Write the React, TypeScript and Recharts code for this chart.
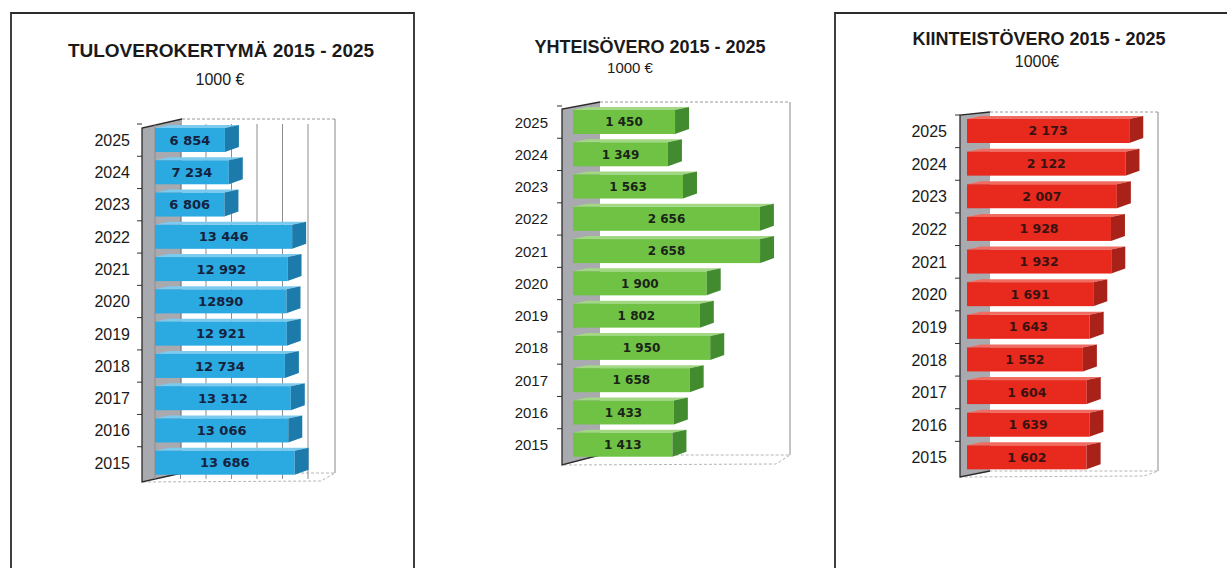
import { BarChart, Bar, XAxis, YAxis, CartesianGrid, LabelList } from 'recharts';

const years = ['2025', '2024', '2023', '2022', '2021', '2020', '2019', '2018', '2017', '2016', '2015'];

const tuloveroValues = [6854, 7234, 6806, 13446, 12992, 12890, 12921, 12734, 13312, 13066, 13686];
const tuloveroLabels = ['6 854', '7 234', '6 806', '13 446', '12 992', '12890', '12 921', '12 734', '13 312', '13 066', '13 686'];
const tuloveroTicks = [0, 2500, 5000, 7500, 10000, 12500, 15000];

const yhteisoveroValues = [1450, 1349, 1563, 2656, 2658, 1900, 1802, 1950, 1658, 1433, 1413];

const kiinteistoveroValues = [2173, 2122, 2007, 1928, 1932, 1691, 1643, 1552, 1604, 1639, 1602];

const FONT = '"Liberation Sans", Arial, sans-serif';
const LABEL_FONT = '"DejaVu Sans", Verdana, sans-serif';
const H = 568;

const fmt = (n: number) => String(n).replace(/\B(?=(\d{3})+(?!\d))/g, ' ');

type Cfg = {
  key: string;
  title: string;
  unit: string;
  titleX: number;
  titleY: number;
  titleSize: number;
  unitX: number;
  unitY: number;
  unitSize: number;
  values: number[];
  labels?: string[];
  domainMax: number;
  ticks?: number[];
  left: number;
  width: number;
  L: number;
  R: number;
  T: number;
  B: number;
  labelGap: number;
  wallFront: number;
  depth: number;
  topF: number;
  topB: number;
  botF: number;
  botB: number;
  yearSize: number;
  labelSize: number;
  labelColor: string;
  main: string;
  dark: string;
  light: string;
};

const charts: Cfg[] = [
  {
    key: 'tulo', title: 'TULOVEROKERTYMÄ 2015 - 2025', unit: '1000 €',
    titleX: 221, titleY: 57, titleSize: 19, unitX: 220, unitY: 85, unitSize: 16,
    values: tuloveroValues, labels: tuloveroLabels, domainMax: 15000, ticks: tuloveroTicks,
    left: 20, width: 380, L: 155, R: 308, T: 124, B: 479, labelGap: 25,
    wallFront: 13, depth: 27, topF: 4, topB: -5, botF: 3, botB: -6,
    yearSize: 16, labelSize: 13, labelColor: '#15223d',
    main: '#2ba9e1', dark: '#1d7bab', light: '#7ccbef',
  },
  {
    key: 'yhteiso', title: 'YHTEISÖVERO 2015 - 2025', unit: '1000 €',
    titleX: 650, titleY: 53, titleSize: 18, unitX: 630, unitY: 73, unitSize: 15,
    values: yhteisoveroValues, domainMax: 2700,
    left: 430, width: 390, L: 573, R: 763, T: 106, B: 461, labelGap: 25,
    wallFront: 11, depth: 27, topF: 3, topB: -4, botF: 4, botB: -6,
    yearSize: 15, labelSize: 12, labelColor: '#1a2418',
    main: '#6fc244', dark: '#428b2e', light: '#a2d884',
  },
  {
    key: 'kiinteisto', title: 'KIINTEISTÖVERO 2015 - 2025', unit: '1000€',
    titleX: 1039, titleY: 45, titleSize: 18, unitX: 1037, unitY: 67, unitSize: 16,
    values: kiinteistoveroValues, domainMax: 2250,
    left: 850, width: 370, L: 967, R: 1135, T: 115, B: 474, labelGap: 20,
    wallFront: 7, depth: 23, topF: 0, topB: -3, botF: 3, botB: -3,
    yearSize: 16, labelSize: 12.5, labelColor: '#3a1210',
    main: '#e8291e', dark: '#a92219', light: '#f06c60',
  },
];

const Bar3D = (props: any) => {
  const { x, y, width, height, main, dark, light } = props;
  if (!width || width <= 0) return null;
  const d = 14;
  const dy = 3;
  return (
    <g>
      <polygon points={`${x},${y} ${x + d},${y - dy} ${x + width + d},${y - dy} ${x + width},${y}`} fill={light} />
      <rect x={x} y={y} width={width} height={height} fill={main} />
      <polygon
        points={`${x + width},${y} ${x + width + d},${y - dy} ${x + width + d},${y + height - dy - 2} ${x + width},${y + height}`}
        fill={dark}
      />
    </g>
  );
};

// tick x is the plot's left edge inside this chart's own svg
const YearTick = (props: any) => {
  const { x, y, payload, cfg, band } = props;
  const wf = x - cfg.wallFront;
  return (
    <g>
      <line x1={wf - 5} x2={wf} y1={y - band / 2} y2={y - band / 2} stroke="#333" strokeWidth={1} />
      <text
        x={x - cfg.labelGap}
        y={y}
        dy={cfg.yearSize * 0.36}
        textAnchor="end"
        fontSize={cfg.yearSize}
        fontFamily={FONT}
        fill="#1a1a1a"
      >
        {payload.value}
      </text>
    </g>
  );
};

const Walls = ({ c }: { c: Cfg }) => {
  const wf = c.L - c.wallFront;
  const wb = c.L + c.depth;
  const topF = c.T + c.topF;
  const topB = c.T + c.topB;
  const botF = c.B + c.botF;
  const botB = c.B + c.botB;
  const right = c.R + c.depth;
  return (
    <g>
      <rect x={wb} y={topB} width={right - wb} height={botB - topB} fill="#fff" />
      <line x1={wb} y1={topB} x2={right} y2={topB} stroke="#9a9a9a" strokeDasharray="3 2" />
      <line x1={right} y1={topB} x2={right} y2={botB} stroke="#8a8a8a" />
      <polygon
        points={`${wf},${botF} ${wb},${botB} ${right},${botB} ${right - 14},${botF - 1}`}
        fill="#fff"
        stroke="#b5b5b5"
        strokeDasharray="3 2"
      />
      <polygon points={`${wf},${topF} ${wb},${topB} ${wb},${botB} ${wf},${botF}`} fill="#a9aab0" />
      <polyline
        points={`${wb},${topB} ${wf},${topF} ${wf},${botF} ${wb},${botB}`}
        fill="none"
        stroke="#2a2a2a"
        strokeWidth={1.3}
      />
    </g>
  );
};

const Chart3D = ({ c }: { c: Cfg }) => {
  const data = years.map((year, i) => ({
    year,
    value: c.values[i],
    label: c.labels ? c.labels[i] : fmt(c.values[i]),
  }));
  const band = (c.B - c.T) / years.length;
  return (
    <div style={{ position: 'absolute', left: c.left, top: 0 }}>
      <BarChart
        width={c.width}
        height={H}
        data={data}
        layout="vertical"
        margin={{ top: c.T, bottom: H - c.B, left: 0, right: c.left + c.width - c.R }}
      >
        <XAxis type="number" domain={[0, c.domainMax]} ticks={c.ticks} interval={0} hide />
        <YAxis
          type="category"
          dataKey="year"
          width={c.L - c.left}
          axisLine={false}
          tickLine={false}
          tickSize={0}
          tickMargin={0}
          interval={0}
          tick={(p: any) => <YearTick {...p} cfg={c} band={band} />}
        />
        {c.ticks && (
          <g transform={`translate(${c.depth},${c.topB})`}>
            <CartesianGrid horizontal={false} stroke="#8c8c8c" strokeWidth={1} />
          </g>
        )}
        <Bar
          dataKey="value"
          barSize={24}
          isAnimationActive={false}
          shape={(p: any) => <Bar3D {...p} main={c.main} dark={c.dark} light={c.light} />}
        >
          <LabelList
            dataKey="label"
            position="center"
            fill={c.labelColor}
            fontSize={c.labelSize}
            fontWeight={700}
            fontFamily={LABEL_FONT}
          />
        </Bar>
      </BarChart>
    </div>
  );
};

export default function App() {
  return (
    <div style={{ position: 'absolute', left: 0, top: 0, width: 1227, height: H, background: '#fff', overflow: 'hidden' }}>
      <svg width={1227} height={H} style={{ position: 'absolute', left: 0, top: 0 }}>
        <path d="M11,570 L11,13 L414,13 L414,570" fill="none" stroke="#2b2b2b" strokeWidth={1.8} />
        <path d="M835,570 L835,13 L1229,13" fill="none" stroke="#2b2b2b" strokeWidth={1.8} />
        {charts.map((c) => (
          <g key={c.key}>
            <text x={c.titleX} y={c.titleY} textAnchor="middle" fontSize={c.titleSize} fontWeight={700} fontFamily={FONT} fill="#1a1a1a">
              {c.title}
            </text>
            <text x={c.unitX} y={c.unitY} textAnchor="middle" fontSize={c.unitSize} fontFamily={FONT} fill="#1a1a1a">
              {c.unit}
            </text>
            <Walls c={c} />
          </g>
        ))}
      </svg>
      {charts.map((c) => (
        <Chart3D key={c.key} c={c} />
      ))}
    </div>
  );
}
